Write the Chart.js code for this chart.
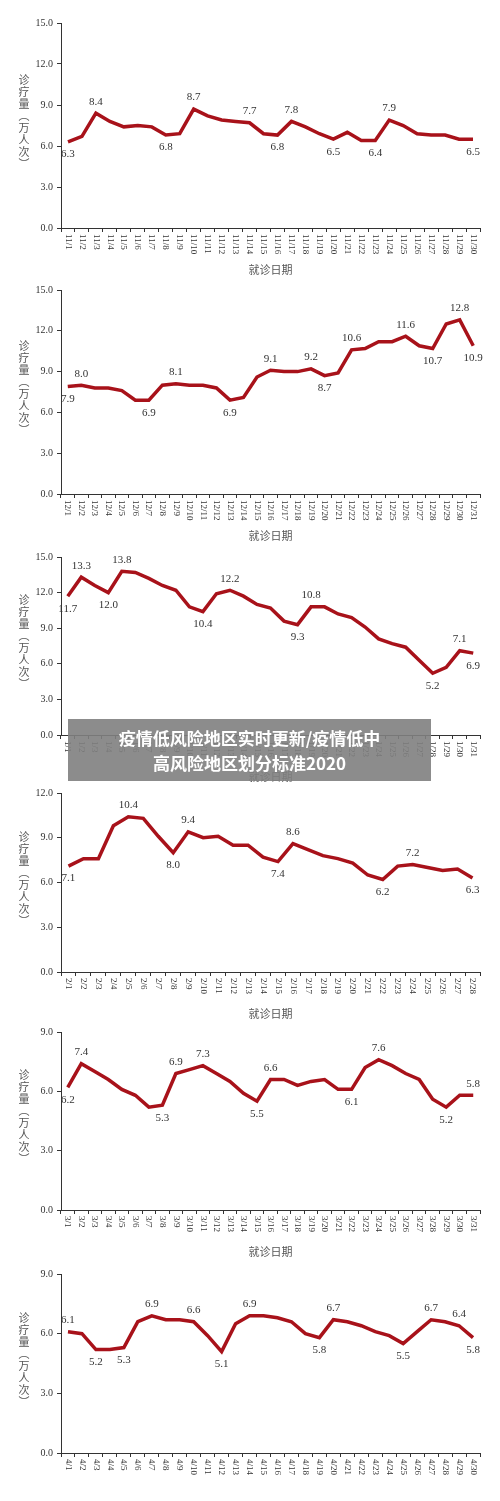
<!DOCTYPE html>
<html><head><meta charset="utf-8">
<script src="https://cdn.jsdelivr.net/npm/chart.js@4/dist/chart.umd.min.js"></script>
<style>
body{margin:0;background:#fff;width:500px;height:1501px;position:relative;overflow:hidden}
.box{position:absolute;left:0;width:500px}
.ytitle{position:absolute;left:16px;writing-mode:vertical-rl;font-family:"Noto Sans CJK SC";font-size:11px;color:#555;letter-spacing:1px}
.banner{position:absolute;left:68px;top:719px;width:363px;height:62px;background:rgba(128,128,128,0.9);color:#fff;font-family:"Noto Sans CJK SC";font-weight:bold;font-size:17px;line-height:25px;text-align:center;padding-top:6px;box-sizing:border-box}
</style></head><body>
<script>
// ---- data ----
const novDays = Array.from({length:30},(_,i)=>'11/'+(i+1));
const novValues = [6.3,6.7,8.4,7.8,7.4,7.5,7.4,6.8,6.9,8.7,8.2,7.9,7.8,7.7,6.9,6.8,7.8,7.4,6.9,6.5,7.0,6.4,6.4,7.9,7.5,6.9,6.8,6.8,6.5,6.5];
const novAbove = [2,9,13,16,23];
const novBelow = [0,7,15,19,22,29];

const decDays = Array.from({length:31},(_,i)=>'12/'+(i+1));
const decValues = [7.9,8.0,7.8,7.8,7.6,6.9,6.9,8.0,8.1,8.0,8.0,7.8,6.9,7.1,8.6,9.1,9.0,9.0,9.2,8.7,8.9,10.6,10.7,11.2,11.2,11.6,10.9,10.7,12.5,12.8,10.9];
const decAbove = [1,8,15,18,21,25,29];
const decBelow = [0,6,12,19,27,30];

const janDays = Array.from({length:31},(_,i)=>'1/'+(i+1));
const janValues = [11.7,13.3,12.6,12.0,13.8,13.7,13.2,12.6,12.2,10.8,10.4,11.9,12.2,11.7,11.0,10.7,9.6,9.3,10.8,10.8,10.2,9.9,9.1,8.1,7.7,7.4,6.3,5.2,5.7,7.1,6.9];
const janAbove = [1,4,12,18,29];
const janBelow = [0,3,10,17,27,30];

const febDays = Array.from({length:28},(_,i)=>'2/'+(i+1));
const febValues = [7.1,7.6,7.6,9.8,10.4,10.3,9.1,8.0,9.4,9.0,9.1,8.5,8.5,7.7,7.4,8.6,8.2,7.8,7.6,7.3,6.5,6.2,7.1,7.2,7.0,6.8,6.9,6.3];
const febAbove = [4,8,15,23];
const febBelow = [0,7,14,21,27];

const marDays = Array.from({length:31},(_,i)=>'3/'+(i+1));
const marValues = [6.2,7.4,7.0,6.6,6.1,5.8,5.2,5.3,6.9,7.1,7.3,6.9,6.5,5.9,5.5,6.6,6.6,6.3,6.5,6.6,6.1,6.1,7.2,7.6,7.3,6.9,6.6,5.6,5.2,5.8,5.8];
const marAbove = [1,8,10,15,23,30];
const marBelow = [0,7,14,21,28];

const aprDays = Array.from({length:30},(_,i)=>'4/'+(i+1));
const aprValues = [6.1,6.0,5.2,5.2,5.3,6.6,6.9,6.7,6.7,6.6,5.9,5.1,6.5,6.9,6.9,6.8,6.6,6.0,5.8,6.7,6.6,6.4,6.1,5.9,5.5,6.1,6.7,6.6,6.4,5.8];
const aprAbove = [0,6,9,13,19,26,28];
const aprBelow = [2,4,11,18,24,29];

const yMax15 = 15, yMax12 = 12, yMax9 = 9;
const xTitle = '就诊日期';
const yTitle = '诊疗量（万人次）';

const panels = [
 {days:novDays, vals:novValues, above:novAbove, below:novBelow, max:yMax15, top:23, bottom:228, title:true},
 {days:decDays, vals:decValues, above:decAbove, below:decBelow, max:yMax15, top:290, bottom:494, title:true},
 {days:janDays, vals:janValues, above:janAbove, below:janBelow, max:yMax15, top:557, bottom:735, title:true},
 {days:febDays, vals:febValues, above:febAbove, below:febBelow, max:yMax12, top:793, bottom:972, title:true},
 {days:marDays, vals:marValues, above:marAbove, below:marBelow, max:yMax9, top:1032, bottom:1210, title:true},
 {days:aprDays, vals:aprValues, above:aprAbove, below:aprBelow, max:yMax9, top:1274, bottom:1453, title:false},
];

const labelPlugin = {
  id:'vlabels',
  afterDatasetsDraw(chart, args, opts){
    const ctx = chart.ctx, meta = chart.getDatasetMeta(0), vals = chart.data.datasets[0].data;
    ctx.save();
    ctx.font = '11px "Liberation Serif"'; ctx.fillStyle = '#333'; ctx.textAlign = 'center';
    opts.above.forEach(i=>{const p=meta.data[i]; ctx.textBaseline='bottom'; ctx.fillText(vals[i].toFixed(1),p.x,p.y-6);});
    opts.below.forEach(i=>{const p=meta.data[i]; ctx.textBaseline='top'; ctx.fillText(vals[i].toFixed(1),p.x,p.y+7);});
    // x tick labels rotated clockwise (reading top-down)
    const xs = chart.scales.x;
    ctx.font = '9px "Liberation Serif"'; ctx.fillStyle='#333'; ctx.textAlign='left'; ctx.textBaseline='middle';
    chart.data.labels.forEach((l,i)=>{
      const x = xs.getPixelForTick(i), y = xs.top + 6;
      ctx.save(); ctx.translate(x,y); ctx.rotate(Math.PI/2); ctx.fillText(l,0,0); ctx.restore();
    });
    ctx.restore();
  }
};

panels.forEach(p=>{
  const canvasTop = p.top - 12;
  const h = (p.bottom - p.top) + 12 + 52;
  const div = document.createElement('div');
  div.className='box'; div.style.top=canvasTop+'px'; div.style.height=h+'px';
  const c = document.createElement('canvas'); div.appendChild(c); document.body.appendChild(div);
  const yt = document.createElement('div'); yt.className='ytitle'; yt.textContent=yTitle;
  yt.style.top = (p.top + (p.bottom-p.top)/2 - 52)+'px'; document.body.appendChild(yt);
  new Chart(c,{
    type:'line',
    data:{labels:p.days, datasets:[{data:p.vals, borderColor:'#a8121a', borderWidth:3.5, pointRadius:0, tension:0, fill:false}]},
    options:{
      responsive:true, maintainAspectRatio:false, animation:false,
      layout:{padding:{top:12,right:20,left:0,bottom:0}},
      plugins:{legend:{display:false}, tooltip:{enabled:false}, vlabels:{above:p.above, below:p.below}},
      scales:{
        y:{min:0,max:p.max,
           ticks:{stepSize:3,callback:v=>v.toFixed(1),font:{family:'Liberation Serif',size:10},color:'#333',padding:4},
           grid:{drawOnChartArea:false,tickLength:4,color:'#333'},
           border:{color:'#333'},
           afterFit(s){s.width=61;}},
        x:{offset:true,
           ticks:{autoSkip:false,maxRotation:90,minRotation:90,font:{family:'Liberation Serif',size:9},color:'rgba(0,0,0,0)',padding:2},
           grid:{drawOnChartArea:false,offset:true,tickLength:4,color:'#333'},
           border:{color:'#333'},
           title:{display:p.title,text:xTitle,font:{family:'Noto Sans CJK SC',size:11},color:'#555',padding:{top:2}},
           afterFit(s){s.height=52;}}
      }
    },
    plugins:[labelPlugin]
  });
});
</script>
<div class="banner">疫情低风险地区实时更新/疫情低中<br>高风险地区划分标准2020</div>
</body></html>
